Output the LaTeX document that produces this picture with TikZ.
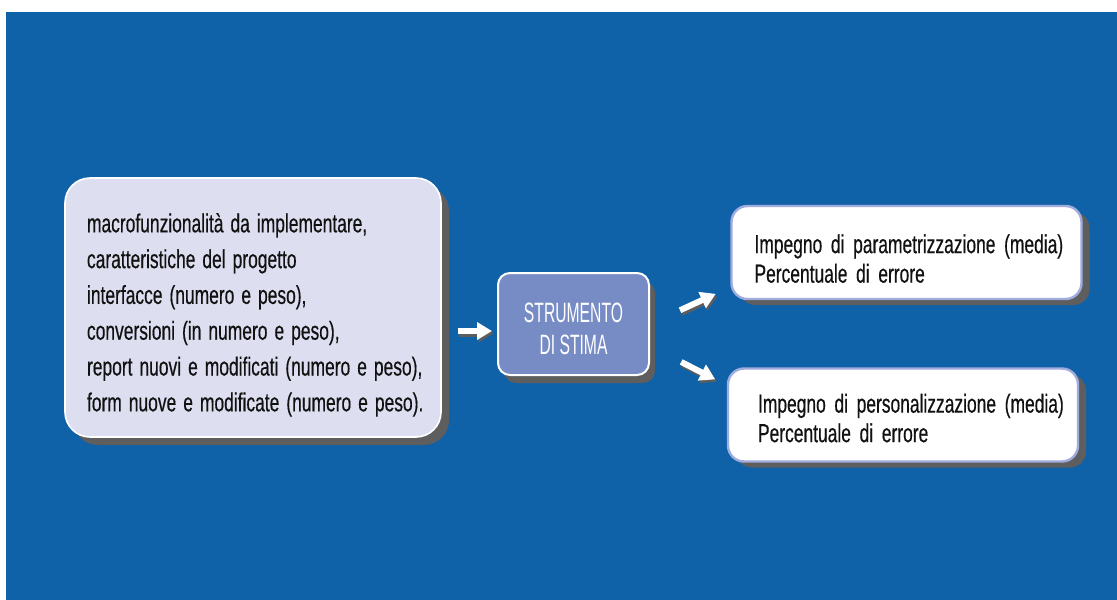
\documentclass[tikz,border=0pt]{standalone}
\usepackage{fontspec}
\setmainfont{Liberation Sans}
\newfontfamily\bodyfont{Liberation Sans}[FakeStretch=0.67, FakeBold=0.4]
\newfontfamily\capfont{Liberation Sans}[FakeStretch=0.56]
\usetikzlibrary{arrows.meta,calc,shadows}

\definecolor{bgblue}{RGB}{15,98,168}
\definecolor{lavender}{RGB}{221,223,240}
\definecolor{toolblue}{RGB}{119,140,197}
\definecolor{outline}{RGB}{160,172,222}
\definecolor{shadowgray}{RGB}{94,94,94}
\definecolor{ink}{RGB}{17,17,17}

% condensed body text
\newcommand{\bodytext}[2]{\bodyfont\fontsize{#1}{#2}\selectfont}
% word space for the input list
\newcommand{\ws}{\hspace{7pt}}

\tikzset{
  boxshadow/.style={drop shadow={shadow xshift=#1, shadow yshift=-#1, opacity=1, fill=shadowgray}},
  inputbox/.style={draw=white, line width=1.6pt, fill=lavender, rounded corners=25pt,
    boxshadow=8pt, minimum width=376pt, minimum height=259pt,
    text width=332pt, inner xsep=22pt, align=left, text=ink,
    font=\bodytext{26}{35.8}},
  toolbox/.style={draw=white, line width=2pt, fill=toolblue, rounded corners=12pt,
    drop shadow={shadow xshift=6pt, shadow yshift=-8pt, opacity=1, fill=shadowgray},
    minimum width=151pt, minimum height=102pt, align=center, text=white,
    font=\capfont\fontsize{28}{32}\selectfont},
  outputbox/.style={draw=outline, line width=2.4pt, fill=white, rounded corners=16pt,
    drop shadow={shadow xshift=8pt, shadow yshift=-6pt, opacity=1, fill=shadowgray},
    minimum width=350pt, minimum height=93pt, text width=350pt, inner xsep=0pt,
    align=left, text=ink, font=\bodytext{26}{29.5}},
  flowarrow/.style={line width=6pt, -{Triangle[length=15pt,width=17pt]}},
  arrowshade/.style={flowarrow, shadowgray, transform canvas={shift={(1.5pt,-2.5pt)}}}
}

\begin{document}
\begin{tikzpicture}[x=1pt,y=-1pt]
\useasboundingbox (0,0) rectangle (1117,600);
\fill[bgblue] (6,12) rectangle (1117,600);

% input data
\node[inputbox] (inp) at (253,307.5) {\rule{0pt}{34pt}\mbox{macrofunzionalità\ws da\ws implementare,}\\
\mbox{caratteristiche\ws del\ws progetto}\\
\mbox{interfacce\ws (numero\ws e\ws peso),}\\
\mbox{conversioni\ws (in\ws numero\ws e\ws peso),}\\
\mbox{report\ws nuovi\ws e\ws modificati\ws (numero\ws e\ws peso),}\\
\mbox{form\ws nuove\ws e\ws modificate\ws (numero\ws e\ws peso).}};

% estimation tool
\node[toolbox] (tool) at (573.5,324) {\rule{0pt}{30pt}STRUMENTO\\DI STIMA};

% results
\node[outputbox] (par) at (906.5,252.5) {\rule{0pt}{31pt}\hspace*{23pt}\mbox{Impegno di parametrizzazione (media)}\\\hspace*{23pt}Percentuale di errore};
\node[outputbox] (pers) at (903,415) {\rule{0pt}{25pt}\hspace*{30pt}\mbox{Impegno di personalizzazione (media)}\\\hspace*{30pt}Percentuale di errore};

% connectors
\coordinate (inTip) at ([yshift=-7pt]tool.west);
\coordinate (upEnd) at ([yshift=13pt]par.south west);
\coordinate (upStart) at (tool.east);
\coordinate (downStart) at ([yshift=-22pt]tool.east);
\coordinate (downEnd) at ([yshift=-18pt]pers.north west);

\draw[arrowshade, shorten <=16pt, shorten >=5pt] (inp.east |- inTip) -- (inTip);
\draw[flowarrow, white, shorten <=16pt, shorten >=5pt] (inp.east |- inTip) -- (inTip);

\draw[arrowshade, shorten <=33pt, shorten >=16pt] (upStart) -- (upEnd);
\draw[flowarrow, white, shorten <=33pt, shorten >=16pt] (upStart) -- (upEnd);

\draw[arrowshade, shorten <=35pt, shorten >=13pt] (downStart) -- (downEnd);
\draw[flowarrow, white, shorten <=35pt, shorten >=13pt] (downStart) -- (downEnd);
\end{tikzpicture}
\end{document}
